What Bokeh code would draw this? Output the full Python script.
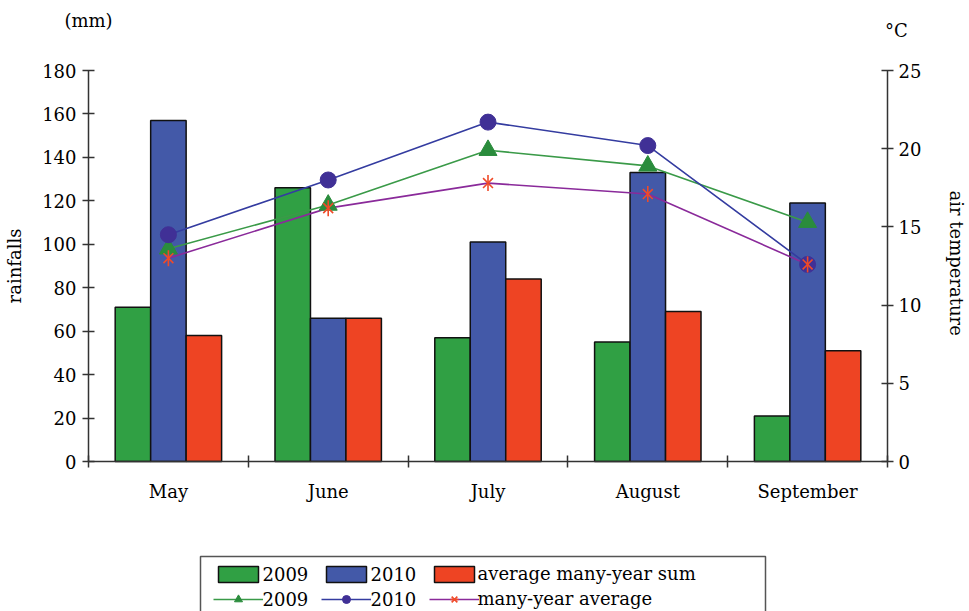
from bokeh.plotting import figure
from bokeh.models import (Range1d, LinearAxis, FixedTicker, Legend, LegendItem, Label,
                          BoxAnnotation, ColumnDataSource)
from bokeh.transform import dodge
from bokeh.embed import file_html
from bokeh.resources import INLINE
import math

months = ["May", "June", "July", "August", "September"]
rain_2009 = [71, 126, 57, 55, 21]
rain_2010 = [157, 66, 101, 133, 119]
rain_avg = [58, 66, 84, 69, 51]
temp_2009 = [13.6, 16.4, 19.9, 18.9, 15.3]
temp_2010 = [14.5, 18.0, 21.7, 20.2, 12.6]
temp_avg = [13.0, 16.2, 17.8, 17.1, 12.6]
left_ticks = [0, 20, 40, 60, 80, 100, 120, 140, 160, 180]
right_ticks = [0, 5, 10, 15, 20, 25]
unit_labels = ["(mm)", "°C"]
legend_labels = ["2009", "2010", "average many-year sum",
                 "2009", "2010", "many-year average"]

FONT = "DejaVu Serif"
FS = "18px"

GREEN, BLUE, RED = "#30A044", "#4359A8", "#EE4423"
L09, L10, LAV = "#3A9A48", "#343CA0", "#8A2A9A"
M09, M10, MAV = "#2A8C3C", "#403096", "#F04A28"
OUT = "#111111"
AX = "#333333"

# layout (pixels): whole canvas is the frame; the chart area sits inside it
W, H = 969, 611
FL, FR, FT, FB = 88, 887, 70, 461
LEG_L, LEG_R, LEG_T = 200, 765, 556
LEG_TEXT_X = [262, 370, 477]
LEG_ROW_Y = [573, 598]
RMAX, TMAX = left_ticks[-1], right_ticks[-1]

n = len(months)
xc = [i + 0.5 for i in range(n)]
bw = 0.222

pxx = (FR - FL) / n
pyl = (FB - FT) / RMAX
pyr = (FB - FT) / TMAX


def px_x(px):
    return (px - FL) / pxx


def px_y(py):
    return (FB - py) / pyl


src = ColumnDataSource(dict(x=xc, month=months, r09=rain_2009, r10=rain_2010, ravg=rain_avg,
                            t09=temp_2009, t10=temp_2010, tavg=temp_avg))

p = figure(width=W, height=H,
           x_range=Range1d(px_x(0), px_x(W)),
           y_range=Range1d(px_y(H), px_y(0)),
           x_axis_type=None, y_axis_type=None,
           output_backend="svg", toolbar_location=None, min_border=0)
p.extra_y_ranges = {"temp": Range1d(-(H - FB) / pyr, TMAX + FT / pyr)}
p.outline_line_color = None
p.grid.visible = False

b09 = p.vbar(x=dodge("x", -bw, range=p.x_range), top="r09", width=bw, source=src,
             fill_color=GREEN, line_color=OUT, line_width=1.5)
b10 = p.vbar(x=dodge("x", 0, range=p.x_range), top="r10", width=bw, source=src,
             fill_color=BLUE, line_color=OUT, line_width=1.5)
bav = p.vbar(x=dodge("x", bw, range=p.x_range), top="ravg", width=bw, source=src,
             fill_color=RED, line_color=OUT, line_width=1.5)

l09 = p.line("x", "t09", source=src, y_range_name="temp", line_color=L09, line_width=1.6)
l10 = p.line("x", "t10", source=src, y_range_name="temp", line_color=L10, line_width=1.6)
lav = p.line("x", "tavg", source=src, y_range_name="temp", line_color=LAV, line_width=1.6)
m09 = p.scatter("x", "t09", source=src, y_range_name="temp", marker="triangle", size=18,
                fill_color=M09, line_color=M09)
m10 = p.scatter("x", "t10", source=src, y_range_name="temp", marker="circle", size=16,
                fill_color=M10, line_color=M10)
ma1 = p.scatter("x", "tavg", source=src, y_range_name="temp", marker="x", size=14,
                line_color=MAV, line_width=1.6)
ma2 = p.scatter("x", "tavg", source=src, y_range_name="temp", marker="dash", size=16,
                angle=math.pi / 2, line_color=MAV, line_width=1.6)

# bottom axis: labels at month centres, tick marks at month boundaries
xa = LinearAxis(fixed_location=0, bounds=(0, n),
                ticker=FixedTicker(ticks=xc, minor_ticks=list(range(n + 1))))
xa.major_label_overrides = {x: m for x, m in zip(xc, months)}
xa.major_tick_line_color = None
xa.minor_tick_in = 6
xa.minor_tick_out = 6
xa.minor_tick_line_color = AX
xa.minor_tick_line_width = 1.5
xa.axis_line_color = AX
xa.axis_line_width = 1.5
xa.major_label_standoff = 13
xa.major_label_text_font = FONT
xa.major_label_text_font_size = FS
xa.major_label_text_color = "black"
p.add_layout(xa, "below")


def style_y(ax, label, lstand, astand):
    ax.minor_tick_line_color = None
    ax.major_tick_in = 6
    ax.major_tick_out = 6
    ax.major_tick_line_color = AX
    ax.major_tick_line_width = 1.5
    ax.axis_line_color = AX
    ax.axis_line_width = 1.5
    ax.major_label_standoff = lstand
    ax.major_label_text_font = FONT
    ax.major_label_text_font_size = FS
    ax.major_label_text_color = "black"
    ax.axis_label = label
    ax.axis_label_text_font = FONT
    ax.axis_label_text_font_size = FS
    ax.axis_label_text_font_style = "normal"
    ax.axis_label_text_color = "black"
    ax.axis_label_standoff = astand


ya = LinearAxis(fixed_location=0, bounds=(0, RMAX), ticker=FixedTicker(ticks=left_ticks))
style_y(ya, "rainfalls", 6, 14)
p.add_layout(ya, "left")

ra = LinearAxis(y_range_name="temp", fixed_location=n, bounds=(0, TMAX),
                ticker=FixedTicker(ticks=right_ticks))
style_y(ra, "air  temperature", 5, 22)
p.add_layout(ra, "right")

# unit captions above the two value axes
p.add_layout(Label(x=px_x(FL), y=px_y(20), text=unit_labels[0],
                   text_align="center", text_baseline="middle",
                   text_font=FONT, text_font_size=FS, text_color="black"))
p.add_layout(Label(x=px_x(FR + 9), y=px_y(30), text=unit_labels[1],
                   text_align="center", text_baseline="middle",
                   text_font=FONT, text_font_size=FS, text_color="black"))

# legend frame
p.add_layout(BoxAnnotation(left=px_x(LEG_L), right=px_x(LEG_R),
                           top=px_y(LEG_T), bottom=px_y(H + 20),
                           fill_color="white", fill_alpha=1.0,
                           line_color="#555555", line_width=1.5, line_alpha=1.0))

# legend swatches (Bokeh legend) and their texts (serif labels)
rend = [[b09], [b10], [bav], [l09, m09], [l10, m10], [lav, ma1, ma2]]
items = [LegendItem(label=" ", renderers=r) for r in rend]
legend = Legend(items=items, location=(213, 2), orientation="horizontal", ncols=3,
                label_text_font_size=FS,
                glyph_width=50, glyph_height=20, label_height=20, label_width=49,
                label_standoff=4, spacing=5, padding=5, margin=0,
                border_line_color=None, background_fill_alpha=0.0)
p.add_layout(legend)

for i, txt in enumerate(legend_labels):
    p.add_layout(Label(x=px_x(LEG_TEXT_X[i % 3]), y=px_y(LEG_ROW_Y[i // 3]), text=txt,
                       text_align="left", text_baseline="middle",
                       text_font=FONT, text_font_size=FS, text_color="black"))

open("out.html", "w").write(file_html(p, INLINE))
